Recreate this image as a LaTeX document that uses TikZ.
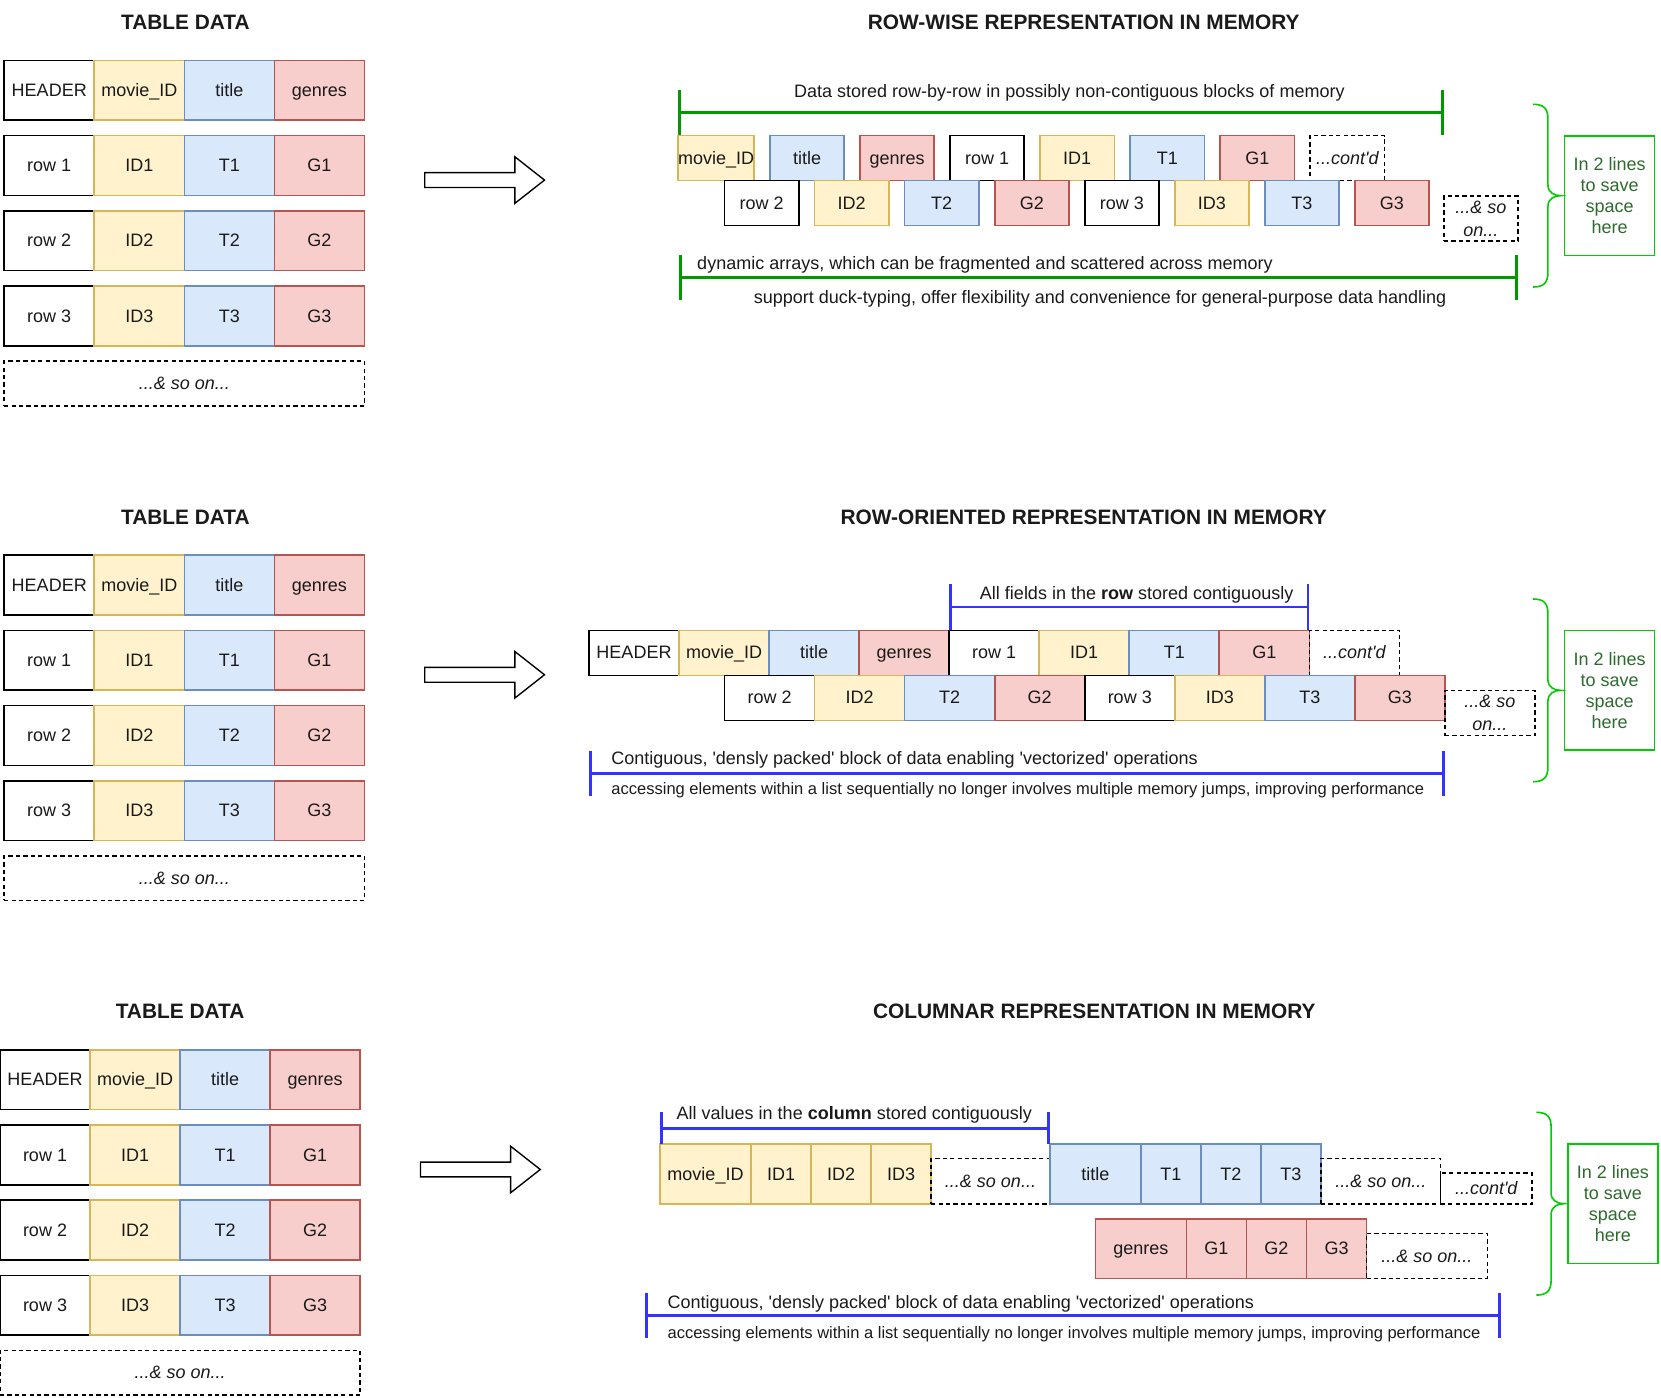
\documentclass[tikz,border=0pt]{standalone}
\usepackage{fontspec}
\setmainfont{Liberation Sans}[Ligatures=TeXOff]
\usetikzlibrary{calc,positioning,arrows.meta}
\definecolor{idfill}{HTML}{FFF2CC}
\definecolor{idline}{HTML}{D6B656}
\definecolor{titlefill}{HTML}{DAE8FC}
\definecolor{titleline}{HTML}{6C8EBF}
\definecolor{genresfill}{HTML}{F8CECC}
\definecolor{genresline}{HTML}{B85450}
\definecolor{dimgreen}{HTML}{009900}
\definecolor{dimblue}{HTML}{3333FF}
\definecolor{notegreen}{HTML}{00CC00}
\definecolor{notetext}{HTML}{2D6A2D}
\definecolor{ink}{HTML}{1A1A1A}

\begin{document}
\begin{tikzpicture}[x=1pt,y=-1pt,
  cell/.style={draw,line width=1.5pt,inner sep=0pt,outer sep=0pt,
    align=center,text=ink,text height=15pt,text depth=3.5pt,
    font=\fontsize{17}{20.5}\selectfont},
  plain/.style={cell,draw=black,fill=white},
  idbox/.style={cell,draw=idline,fill=idfill},
  titlebox/.style={cell,draw=titleline,fill=titlefill},
  genresbox/.style={cell,draw=genresline,fill=genresfill},
  etc/.style={cell,draw=black,dash pattern=on 4pt off 3pt,
    font=\fontsize{17}{21.5}\selectfont\itshape},
  twolines/.style={text height=,text depth=},
  tabcell/.style={minimum width=85pt,minimum height=56.5pt},
  memcell/.style={minimum width=70pt,minimum height=42.5pt},
  rowcell/.style={minimum width=85pt,minimum height=42.5pt},
  colhead/.style={minimum width=86pt,minimum height=56.5pt},
  colcell/.style={minimum width=56.67pt,minimum height=56.5pt},
  heading/.style={text=ink,inner sep=0pt,font=\bfseries\fontsize{19.7}{23}\selectfont},
  caption/.style={text=ink,inner sep=0pt,text height=15pt,text depth=3.5pt,
    font=\fontsize{17}{20.5}\selectfont},
  smallcaption/.style={caption,text height=14pt,text depth=3.3pt,
    font=\fontsize{15.6}{19}\selectfont},
  bigarrow/.style={draw=black,line width=1.3pt,fill=white},
  dimline/.style={line width=2.5pt,{Bar[width=#1]}-{Bar[width=#1]}},
  dimline/.default=42pt,
  brace/.style={draw=notegreen,line width=1.5pt},
  note/.style={draw=notegreen,line width=1.5pt,minimum width=85pt,
    minimum height=113pt,align=center,text=notetext,
    font=\fontsize{17}{20}\selectfont}
]
  \useasboundingbox (0,0) rectangle (1568,1319);

  % ---------------- row-wise ----------------
  % table data
  \node [heading] (tab1 heading) at (175,21) {TABLE DATA};
  \node [plain,tabcell] (tab1 hdr) at (46.5,85.25) {HEADER};
  \node [idbox,tabcell,right=0pt of tab1 hdr] (tab1 id) {movie\_ID};
  \node [titlebox,tabcell,right=0pt of tab1 id] (tab1 title) {title};
  \node [genresbox,tabcell,right=0pt of tab1 title] (tab1 genres) {genres};
  \node [plain,tabcell,below=14.5pt of tab1 hdr] (tab1 r1) {row 1};
  \node [idbox,tabcell,right=0pt of tab1 r1] (tab1 id1) {ID1};
  \node [titlebox,tabcell,right=0pt of tab1 id1] (tab1 t1) {T1};
  \node [genresbox,tabcell,right=0pt of tab1 t1] (tab1 g1) {G1};
  \node [plain,tabcell,below=14.5pt of tab1 r1] (tab1 r2) {row 2};
  \node [idbox,tabcell,right=0pt of tab1 r2] (tab1 id2) {ID2};
  \node [titlebox,tabcell,right=0pt of tab1 id2] (tab1 t2) {T2};
  \node [genresbox,tabcell,right=0pt of tab1 t2] (tab1 g2) {G2};
  \node [plain,tabcell,below=14.5pt of tab1 r2] (tab1 r3) {row 3};
  \node [idbox,tabcell,right=0pt of tab1 r3] (tab1 id3) {ID3};
  \node [titlebox,tabcell,right=0pt of tab1 id3] (tab1 t3) {T3};
  \node [genresbox,tabcell,right=0pt of tab1 t3] (tab1 g3) {G3};
  \node [etc,minimum width=340pt,minimum height=42pt,anchor=north west]
    (tab1 more) at ([yshift=-14.5pt]tab1 r3.south west) {...\& so on...};
  % arrow
  \coordinate (arrow1) at (401,163);
  \draw [bigarrow]
    (arrow1) -- ++(85,0) -- ++(0,-15) -- ++(28,22)
    -- ++(-28,22) -- ++(0,-15) -- ++(-85,0) -- cycle
  ;
  % memory
  \node [heading] (mem1 heading) at (1023,21) {ROW-WISE REPRESENTATION IN MEMORY};
  \node [idbox,memcell] (mem1 id) at (676,149.25) {movie\_ID};
  \node [titlebox,memcell,right=15pt of mem1 id] (mem1 title) {title};
  \node [genresbox,memcell,right=15pt of mem1 title] (mem1 genres) {genres};
  \node [plain,memcell,right=15pt of mem1 genres] (mem1 r1) {row 1};
  \node [idbox,memcell,right=15pt of mem1 r1] (mem1 id1) {ID1};
  \node [titlebox,memcell,right=15pt of mem1 id1] (mem1 t1) {T1};
  \node [genresbox,memcell,right=15pt of mem1 t1] (mem1 g1) {G1};
  \node [etc,memcell,right=15pt of mem1 g1] (mem1 contd) {...cont'd};
  \node [plain,memcell] (mem1 r2) at (719,191.75) {row 2};
  \node [idbox,memcell,right=15pt of mem1 r2] (mem1 id2) {ID2};
  \node [titlebox,memcell,right=15pt of mem1 id2] (mem1 t2) {T2};
  \node [genresbox,memcell,right=15pt of mem1 t2] (mem1 g2) {G2};
  \node [plain,memcell,right=15pt of mem1 g2] (mem1 r3) {row 3};
  \node [idbox,memcell,right=15pt of mem1 r3] (mem1 id3) {ID3};
  \node [titlebox,memcell,right=15pt of mem1 id3] (mem1 t3) {T3};
  \node [genresbox,memcell,right=15pt of mem1 t3] (mem1 g3) {G3};
  \node [etc,twolines,memcell,anchor=north west] (mem1 more)
    at ([xshift=14pt,yshift=-14.5pt]mem1 g3.north east) {...\& so\\on...};
  % dimensions
  \coordinate (dim1a) at ($(mem1 id.north west)+(0,-22)$);
  \coordinate (dim1b) at (1363,106);
  \coordinate (dim1c) at (641,262);
  \coordinate (dim1d) at (mem1 more.east |- dim1c);
  \draw [dimline,dimgreen] (dim1a) -- (dim1b);
  \draw [dimline,dimgreen] (dim1c) -- (dim1d);
  \node [caption] (dim1 top) at (1009.5,86)
    {Data stored row-by-row in possibly non-contiguous blocks of memory};
  \node [caption,anchor=west] (dim1 above) at (658,249)
    {dynamic arrays, which can be fragmented and scattered across memory};
  \node [caption] (dim1 below) at (1038.5,281)
    {support duck-typing, offer flexibility and convenience for general-purpose data handling};
  % note
  \node [note] (note1) at (1519.5,184.7) {In 2 lines\\to save\\space\\here};
  \draw [brace]
    ($(note1.north west)+(-29,-29)$)
    .. controls +(10,0) and +(0,-10) .. ++(14,14)
    -- ($(note1.west)+(-15,-10)$)
    .. controls +(0,7) and +(-6,0) .. ($(note1.west)+(-3,0)$)
    .. controls +(-6,0) and +(0,-7) .. ($(note1.west)+(-15,10)$)
    -- ($(note1.south west)+(-15,15)$)
    .. controls +(0,10) and +(10,0) .. ++(-14,14)
  ;

  % ---------------- row-oriented ----------------
  % table data
  \node [heading] (tab2 heading) at (175,488) {TABLE DATA};
  \node [plain,tabcell] (tab2 hdr) at (46.5,552.25) {HEADER};
  \node [idbox,tabcell,right=0pt of tab2 hdr] (tab2 id) {movie\_ID};
  \node [titlebox,tabcell,right=0pt of tab2 id] (tab2 title) {title};
  \node [genresbox,tabcell,right=0pt of tab2 title] (tab2 genres) {genres};
  \node [plain,tabcell,below=14.5pt of tab2 hdr] (tab2 r1) {row 1};
  \node [idbox,tabcell,right=0pt of tab2 r1] (tab2 id1) {ID1};
  \node [titlebox,tabcell,right=0pt of tab2 id1] (tab2 t1) {T1};
  \node [genresbox,tabcell,right=0pt of tab2 t1] (tab2 g1) {G1};
  \node [plain,tabcell,below=14.5pt of tab2 r1] (tab2 r2) {row 2};
  \node [idbox,tabcell,right=0pt of tab2 r2] (tab2 id2) {ID2};
  \node [titlebox,tabcell,right=0pt of tab2 id2] (tab2 t2) {T2};
  \node [genresbox,tabcell,right=0pt of tab2 t2] (tab2 g2) {G2};
  \node [plain,tabcell,below=14.5pt of tab2 r2] (tab2 r3) {row 3};
  \node [idbox,tabcell,right=0pt of tab2 r3] (tab2 id3) {ID3};
  \node [titlebox,tabcell,right=0pt of tab2 id3] (tab2 t3) {T3};
  \node [genresbox,tabcell,right=0pt of tab2 t3] (tab2 g3) {G3};
  \node [etc,minimum width=340pt,minimum height=42pt,anchor=north west]
    (tab2 more) at ([yshift=-14.5pt]tab2 r3.south west) {...\& so on...};
  % arrow
  \coordinate (arrow2) at (401,630);
  \draw [bigarrow]
    (arrow2) -- ++(85,0) -- ++(0,-15) -- ++(28,22)
    -- ++(-28,22) -- ++(0,-15) -- ++(-85,0) -- cycle
  ;
  % memory
  \node [heading] (mem2 heading) at (1023,488) {ROW-ORIENTED REPRESENTATION IN MEMORY};
  \node [plain,rowcell] (mem2 hdr) at (598.5,616.25) {HEADER};
  \node [idbox,rowcell,right=0pt of mem2 hdr] (mem2 id) {movie\_ID};
  \node [titlebox,rowcell,right=0pt of mem2 id] (mem2 title) {title};
  \node [genresbox,rowcell,right=0pt of mem2 title] (mem2 genres) {genres};
  \node [plain,rowcell,right=0pt of mem2 genres] (mem2 r1) {row 1};
  \node [idbox,rowcell,right=0pt of mem2 r1] (mem2 id1) {ID1};
  \node [titlebox,rowcell,right=0pt of mem2 id1] (mem2 t1) {T1};
  \node [genresbox,rowcell,right=0pt of mem2 t1] (mem2 g1) {G1};
  \node [etc,rowcell,right=0pt of mem2 g1] (mem2 contd) {...cont'd};
  \node [plain,rowcell] (mem2 r2) at (726.5,658.75) {row 2};
  \node [idbox,rowcell,right=0pt of mem2 r2] (mem2 id2) {ID2};
  \node [titlebox,rowcell,right=0pt of mem2 id2] (mem2 t2) {T2};
  \node [genresbox,rowcell,right=0pt of mem2 t2] (mem2 g2) {G2};
  \node [plain,rowcell,right=0pt of mem2 g2] (mem2 r3) {row 3};
  \node [idbox,rowcell,right=0pt of mem2 r3] (mem2 id3) {ID3};
  \node [titlebox,rowcell,right=0pt of mem2 id3] (mem2 t3) {T3};
  \node [genresbox,rowcell,right=0pt of mem2 t3] (mem2 g3) {G3};
  \node [etc,twolines,rowcell,anchor=north west] (mem2 more)
    at ([yshift=-14.5pt]mem2 g3.north east) {...\& so\\on...};
  % dimensions
  \coordinate (dim2a) at ($(mem2 r1.north west)+(0,-22)$);
  \coordinate (dim2b) at ($(mem2 g1.north east)+(0,-22)$);
  \coordinate (dim2c) at ($(mem2 hdr.west)+(0,114)$);
  \coordinate (dim2d) at (mem2 g3.east |- dim2c);
  \draw [dimline=44pt,dimblue] (dim2a) -- (dim2b);
  \draw [dimline,dimblue] (dim2c) -- (dim2d);
  \node [caption] (dim2 top) at (1073,560)
    {All fields in the \textbf{row} stored contiguously};
  \node [caption,anchor=west] (dim2 above) at (577,716)
    {Contiguous, 'densly packed' block of data enabling 'vectorized' operations};
  \node [smallcaption,anchor=west] (dim2 below) at (577,745)
    {accessing elements within a list sequentially no longer involves multiple memory jumps, improving performance};
  % note
  \node [note] (note2) at (1519.5,651.7) {In 2 lines\\to save\\space\\here};
  \draw [brace]
    ($(note2.north west)+(-29,-29)$)
    .. controls +(10,0) and +(0,-10) .. ++(14,14)
    -- ($(note2.west)+(-15,-10)$)
    .. controls +(0,7) and +(-6,0) .. ($(note2.west)+(-3,0)$)
    .. controls +(-6,0) and +(0,-7) .. ($(note2.west)+(-15,10)$)
    -- ($(note2.south west)+(-15,15)$)
    .. controls +(0,10) and +(10,0) .. ++(-14,14)
  ;

  % ---------------- columnar ----------------
  % table data
  \node [heading] (tab3 heading) at (170,955) {TABLE DATA};
  \node [plain,tabcell] (tab3 hdr) at (42.5,1019.25) {HEADER};
  \node [idbox,tabcell,right=0pt of tab3 hdr] (tab3 id) {movie\_ID};
  \node [titlebox,tabcell,right=0pt of tab3 id] (tab3 title) {title};
  \node [genresbox,tabcell,right=0pt of tab3 title] (tab3 genres) {genres};
  \node [plain,tabcell,below=14.5pt of tab3 hdr] (tab3 r1) {row 1};
  \node [idbox,tabcell,right=0pt of tab3 r1] (tab3 id1) {ID1};
  \node [titlebox,tabcell,right=0pt of tab3 id1] (tab3 t1) {T1};
  \node [genresbox,tabcell,right=0pt of tab3 t1] (tab3 g1) {G1};
  \node [plain,tabcell,below=14.5pt of tab3 r1] (tab3 r2) {row 2};
  \node [idbox,tabcell,right=0pt of tab3 r2] (tab3 id2) {ID2};
  \node [titlebox,tabcell,right=0pt of tab3 id2] (tab3 t2) {T2};
  \node [genresbox,tabcell,right=0pt of tab3 t2] (tab3 g2) {G2};
  \node [plain,tabcell,below=14.5pt of tab3 r2] (tab3 r3) {row 3};
  \node [idbox,tabcell,right=0pt of tab3 r3] (tab3 id3) {ID3};
  \node [titlebox,tabcell,right=0pt of tab3 id3] (tab3 t3) {T3};
  \node [genresbox,tabcell,right=0pt of tab3 t3] (tab3 g3) {G3};
  \node [etc,minimum width=340pt,minimum height=42pt,anchor=north west]
    (tab3 more) at ([yshift=-14.5pt]tab3 r3.south west) {...\& so on...};
  % arrow
  \coordinate (arrow3) at (397,1097);
  \draw [bigarrow]
    (arrow3) -- ++(85,0) -- ++(0,-15) -- ++(28,22)
    -- ++(-28,22) -- ++(0,-15) -- ++(-85,0) -- cycle
  ;
  % memory
  \node [heading] (mem3 heading) at (1033,955) {COLUMNAR REPRESENTATION IN MEMORY};
  \node [idbox,colhead] (mem3 id) at (666,1108.25) {movie\_ID};
  \node [idbox,colcell,right=0pt of mem3 id] (mem3 id1) {ID1};
  \node [idbox,colcell,right=0pt of mem3 id1] (mem3 id2) {ID2};
  \node [idbox,colcell,right=0pt of mem3 id2] (mem3 id3) {ID3};
  \node [etc,minimum width=112pt,minimum height=43pt,anchor=south west]
    (mem3 more1) at (mem3 id3.south east) {...\& so on...};
  \node [titlebox,colhead,anchor=south west] (mem3 title)
    at (mem3 more1.south east) {title};
  \node [titlebox,colcell,right=0pt of mem3 title] (mem3 t1) {T1};
  \node [titlebox,colcell,right=0pt of mem3 t1] (mem3 t2) {T2};
  \node [titlebox,colcell,right=0pt of mem3 t2] (mem3 t3) {T3};
  \node [etc,minimum width=113pt,minimum height=43pt,anchor=south west]
    (mem3 more2) at (mem3 t3.south east) {...\& so on...};
  \node [etc,minimum width=86pt,minimum height=29pt,anchor=south west]
    (mem3 contd) at (mem3 more2.south east) {...cont'd};
  \node [genresbox,colhead] (mem3 genres) at (1077,1178.75) {genres};
  \node [genresbox,colcell,right=0pt of mem3 genres] (mem3 g1) {G1};
  \node [genresbox,colcell,right=0pt of mem3 g1] (mem3 g2) {G2};
  \node [genresbox,colcell,right=0pt of mem3 g2] (mem3 g3) {G3};
  \node [etc,minimum width=114pt,minimum height=42.5pt,anchor=south west]
    (mem3 more3) at (mem3 g3.south east) {...\& so on...};
  % dimensions
  \coordinate (dim3a) at ($(mem3 id.north west)+(0,-15)$);
  \coordinate (dim3b) at ($(mem3 title.north west)+(0,-15)$);
  \coordinate (dim3c) at (609,1242);
  \coordinate (dim3d) at (1417,1242);
  \draw [dimline=30pt,dimblue] (dim3a) -- (dim3b);
  \draw [dimline,dimblue] (dim3c) -- (dim3d);
  \node [caption] (dim3 top) at (806.5,1051)
    {All values in the \textbf{column} stored contiguously};
  \node [caption,anchor=west] (dim3 above) at (630,1229)
    {Contiguous, 'densly packed' block of data enabling 'vectorized' operations};
  \node [smallcaption,anchor=west] (dim3 below) at (630,1258)
    {accessing elements within a list sequentially no longer involves multiple memory jumps, improving performance};
  % note
  \node [note] (note3) at (1522.5,1136.3) {In 2 lines\\to save\\space\\here};
  \draw [brace]
    ($(note3.north west)+(-29,-29)$)
    .. controls +(10,0) and +(0,-10) .. ++(14,14)
    -- ($(note3.west)+(-15,-10)$)
    .. controls +(0,7) and +(-6,0) .. ($(note3.west)+(-3,0)$)
    .. controls +(-6,0) and +(0,-7) .. ($(note3.west)+(-15,10)$)
    -- ($(note3.south west)+(-15,15)$)
    .. controls +(0,10) and +(10,0) .. ++(-14,14)
  ;
\end{tikzpicture}
\end{document}
